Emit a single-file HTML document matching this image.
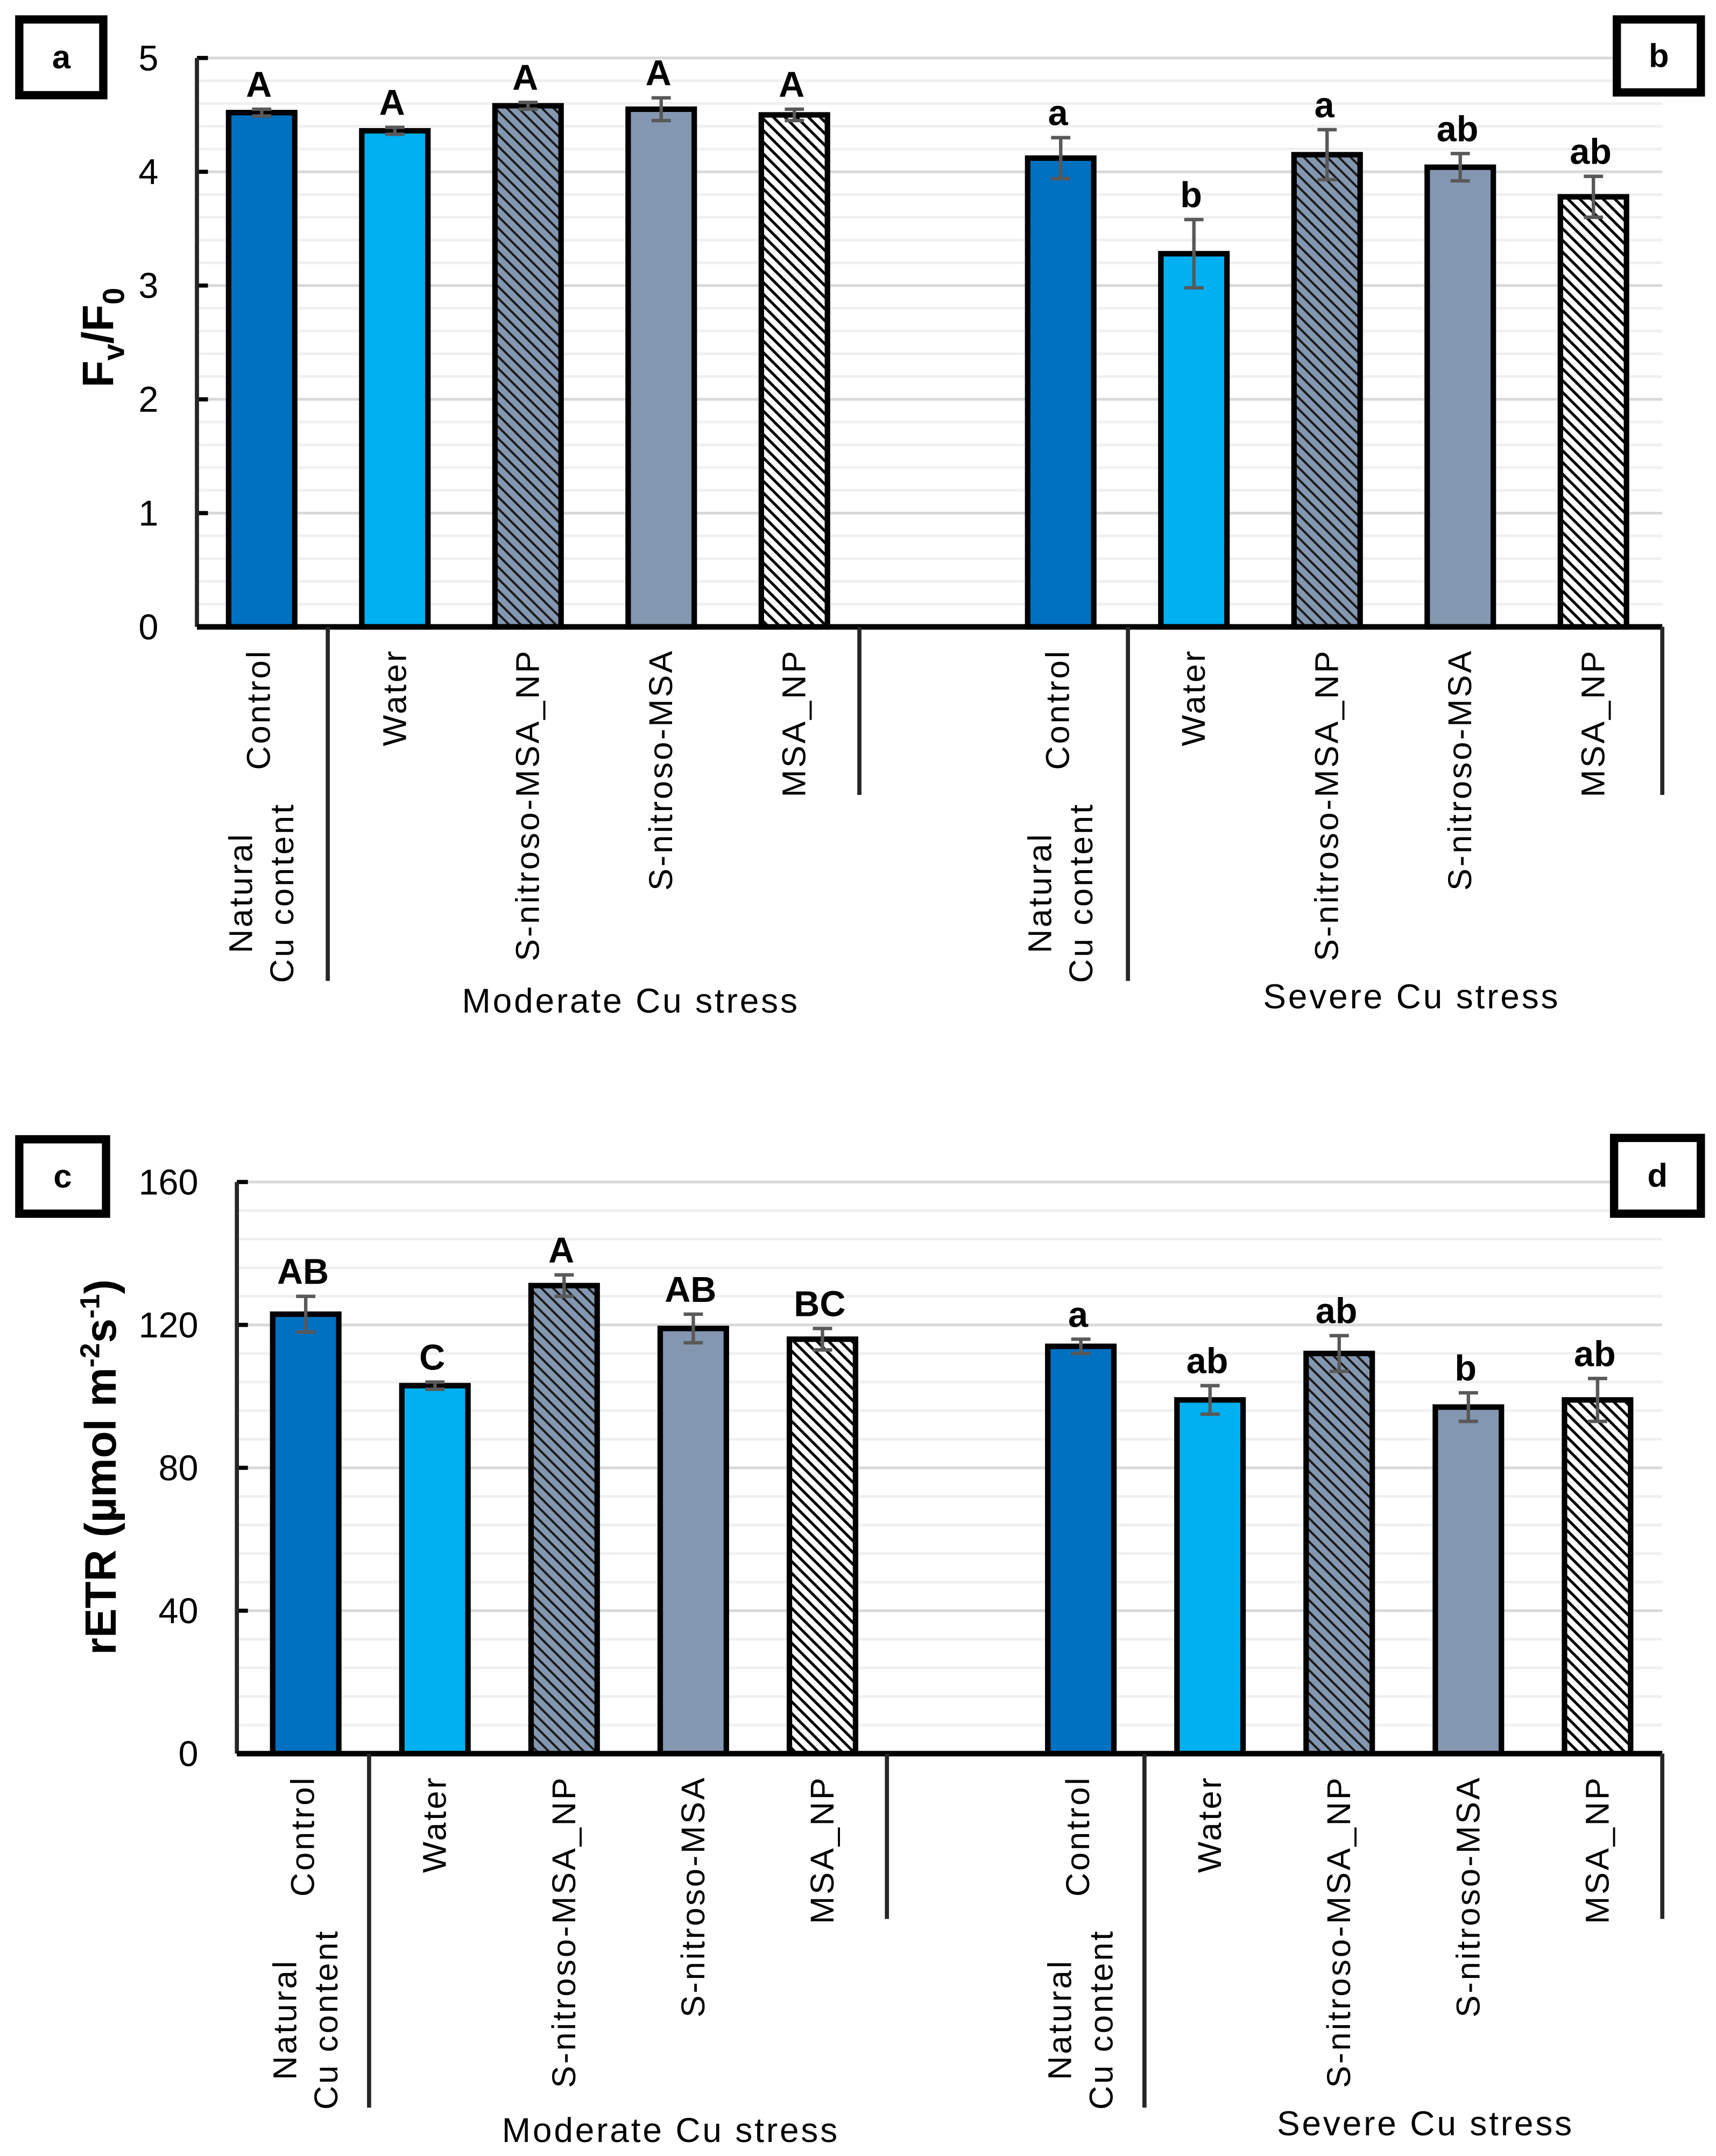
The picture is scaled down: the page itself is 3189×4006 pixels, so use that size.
<!DOCTYPE html>
<html><head><meta charset="utf-8"><style>
html,body{margin:0;padding:0;background:#fff;}
svg{display:block;}
text{font-family:"Liberation Sans",sans-serif;fill:#000;}
</style></head><body>
<svg id="root" width="3189" height="4006" viewBox="0 0 1246 1565" xmlns="http://www.w3.org/2000/svg">
<defs>
<pattern id="hatchDark" patternUnits="userSpaceOnUse" width="6" height="6" patternTransform="rotate(-45)">
<rect width="6" height="6" fill="#8497b0"/><rect x="0" y="0" width="1.6" height="6" fill="#1a1a1a"/>
</pattern>
<pattern id="hatchLight" patternUnits="userSpaceOnUse" width="6" height="6" patternTransform="rotate(-45)">
<rect width="6" height="6" fill="#fff"/><rect x="0" y="0" width="2" height="6" fill="#000"/>
</pattern>
</defs>
<g id="panels"></g>
</svg>
<script>
// Panel A/B: Fv/F0
const categories = ["Control","Water","S-nitroso-MSA_NP","S-nitroso-MSA","MSA_NP"];
const fvModerate = [4.52, 4.36, 4.58, 4.55, 4.50];
const fvModerateErr = [0.03, 0.03, 0.03, 0.10, 0.05];
const fvModerateLetters = ["A","A","A","A","A"];
const fvSevere = [4.12, 3.28, 4.15, 4.04, 3.78];
const fvSevereErr = [0.18, 0.30, 0.22, 0.12, 0.18];
const fvSevereLetters = ["a","b","a","ab","ab"];
const fvTicks = [0,1,2,3,4,5];
// Panel C/D: rETR
const etrModerate = [123, 103, 131, 119, 116];
const etrModerateErr = [5, 1, 3, 4, 3];
const etrModerateLetters = ["AB","C","A","AB","BC"];
const etrSevere = [114, 99, 112, 97, 99];
const etrSevereErr = [2, 4, 5, 4, 6];
const etrSevereLetters = ["a","ab","ab","b","ab"];
const etrTicks = [0,40,80,120,160];

const NS = "http://www.w3.org/2000/svg";
const fills = ["#0070c0","#00b0f0","url(#hatchDark)","#8497b0","url(#hatchLight)"];
const root = document.getElementById("panels");
function mk(tag, attrs, parent, txt){
  const e = document.createElementNS(NS, tag);
  for (const k in attrs) e.setAttribute(k, attrs[k]);
  if (txt !== undefined) e.textContent = txt;
  (parent||root).appendChild(e);
  return e;
}

function panel(cfg){
  const g = mk("g", {});
  
  
  const yScale = v => cfg.y0 - (v - cfg.ticks[0]) / (cfg.ticks[cfg.ticks.length-1] - cfg.ticks[0]) * (cfg.y0 - cfg.yTop);
  const xScale = i => cfg.x0 + cfg.step * i;
  const maxV = cfg.ticks[cfg.ticks.length-1];
  const minorStep = (cfg.ticks[1]-cfg.ticks[0]) / 5;
  for (let v = cfg.ticks[0]; v <= maxV + 1e-9; v += minorStep) {
    const r = (v - cfg.ticks[0]) / (cfg.ticks[1]-cfg.ticks[0]);
    const isMajor = Math.abs(r - Math.round(r)) < 1e-6;
    const l = mk("line", {x1: cfg.axisX, x2: cfg.right, y1: yScale(v), y2: yScale(v), stroke: isMajor ? "#d9d9d9" : "#f0f0f0", "stroke-width": 2}, g);
    
    
  }
  cfg.ticks.forEach(t => {
    const tl = mk("text", {x: cfg.axisX - 28, y: yScale(t) + 9, "text-anchor": "end", "font-size": 26}, g, String(t));
    
    
    mk("line", {x1: cfg.axisX, x2: cfg.axisX + 8, y1: yScale(t), y2: yScale(t), stroke: "#000", "stroke-width": 3}, g);
  });
  const groups = [[cfg.mod, cfg.modErr, cfg.modLet, 0], [cfg.sev, cfg.sevErr, cfg.sevLet, 6]];
  const lab = {"font-size": 24, "letter-spacing": 1.5};
  groups.forEach((gr, gi) => {
    gr[0].forEach((v, i) => {
      const cx = xScale(gr[3] + i);
      const top = yScale(v);
      const bar = mk("rect", {x: cx - 24, y: top, width: 48, height: cfg.y0 - top, fill: fills[i], stroke: "#000", "stroke-width": 4}, g);
      
      
      const eTop = yScale(v + gr[1][i]), eBot = yScale(v - gr[1][i]);
      const eb = mk("g", {stroke: "#595959", "stroke-width": 2.5}, g);
      
      
      mk("line", {x1: cx, x2: cx, y1: eTop, y2: eBot}, eb);
      mk("line", {x1: cx - 7, x2: cx + 7, y1: eTop, y2: eTop}, eb);
      mk("line", {x1: cx - 7, x2: cx + 7, y1: eBot, y2: eBot}, eb);
      const lt = mk("text", {x: cx - 2, y: eTop - 9, "text-anchor": "middle", "font-size": 26, "font-weight": "bold"}, g, gr[2][i]);
      
      
      const lx = cx + 8, ly = cfg.y0 + 16;
      if (i === 0) {
        const c = mk("text", Object.assign({transform: `translate(${cx + 6},${ly}) rotate(-90)`, "text-anchor": "end"}, lab), g, "Control");
        
        
        const n = mk("text", Object.assign({transform: `translate(${cx - 7},${ly + 177}) rotate(-90)`, "text-anchor": "middle"}, lab), g, "Natural");
        
        
        const cu = mk("text", Object.assign({transform: `translate(${cx + 23},${ly + 177}) rotate(-90)`, "text-anchor": "middle"}, lab), g, "Cu content");
        
        
      } else {
        const c = mk("text", Object.assign({transform: `translate(${lx},${ly}) rotate(-90)`, "text-anchor": "end"}, lab), g, categories[i]);
        
        
      }
    });
  });
  const ya = mk("line", {x1: cfg.axisX, x2: cfg.axisX, y1: cfg.yTop, y2: cfg.y0, stroke: "#262626", "stroke-width": 3}, g);
  
  
  const xa = mk("line", {x1: cfg.axisX, x2: cfg.right, y1: cfg.y0, y2: cfg.y0, stroke: "#000", "stroke-width": 4}, g);
  
  
  cfg.dividers.forEach(d => {
    const l = mk("line", {x1: d[0], x2: d[0], y1: cfg.y0, y2: cfg.y0 + d[1], stroke: "#262626", "stroke-width": 3}, g);
    
    
  });
  cfg.groupLabels.forEach(gl => {
    const t = mk("text", {x: gl[0], y: gl[1], "text-anchor": "middle", "font-size": 25, "letter-spacing": 1.5}, g, gl[2]);
    
    
  });
  cfg.boxes.forEach(b => {
    const bx = mk("rect", {x: b[0], y: b[1], width: b[2], height: b[3], fill: "#fff", stroke: "#000", "stroke-width": 6}, g);
    
    
    const t = mk("text", {x: b[0] + b[2]/2, y: b[1] + b[3]/2 + 8, "text-anchor": "middle", "font-size": 24, "font-weight": "bold"}, g, b[4]);
    
    
  });
  return g;
}

panel({name: "fv-f0-chart", axisX: 143, right: 1207, y0: 455, yTop: 42, x0: 190, step: 96.7,
  ticks: fvTicks, mod: fvModerate, modErr: fvModerateErr, modLet: fvModerateLetters,
  sev: fvSevere, sevErr: fvSevereErr, sevLet: fvSevereLetters,
  dividers: [[238, 257], [624, 122], [819, 257], [1207, 122]],
  groupLabels: [[458, 735, "Moderate Cu stress"], [1025, 732, "Severe Cu stress"]],
  boxes: [[14, 14, 61, 55, "a"], [1174, 14, 61, 53, "b"]]});

panel({name: "retr-chart", axisX: 172, right: 1207, y0: 1273, yTop: 858, x0: 222, step: 93.8,
  ticks: etrTicks, mod: etrModerate, modErr: etrModerateErr, modLet: etrModerateLetters,
  sev: etrSevere, sevErr: etrSevereErr, sevLet: etrSevereLetters,
  dividers: [[268, 257], [644, 120], [831, 257], [1207, 120]],
  groupLabels: [[487, 1555, "Moderate Cu stress"], [1035, 1550, "Severe Cu stress"]],
  boxes: [[14, 827, 63, 54, "c"], [1172, 826, 63, 55, "d"]]});

const t1 = mk("text", {transform: "translate(82,245) rotate(-90)", "text-anchor": "middle", "font-size": 32, "font-weight": "bold"});


t1.innerHTML = 'F<tspan font-size="22" dy="8">v</tspan><tspan dy="-8">/F</tspan><tspan font-size="22" dy="8">0</tspan>';
const t2 = mk("text", {transform: "translate(84,1065) rotate(-90)", "text-anchor": "middle", "font-size": 32, "font-weight": "bold"});


t2.innerHTML = 'rETR (µmol m<tspan font-size="20" dy="-12">-2</tspan><tspan dy="12">s</tspan><tspan font-size="20" dy="-12">-1</tspan><tspan dy="12">)</tspan>';
</script>
</body></html>
